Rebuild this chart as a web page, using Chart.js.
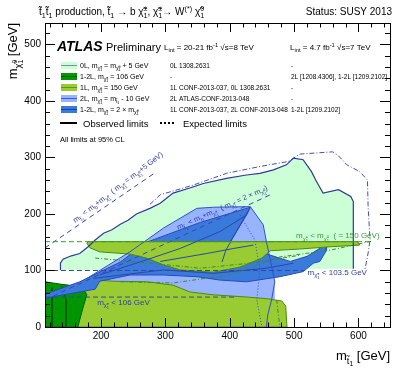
<!DOCTYPE html>
<html>
<head>
<meta charset="utf-8">
<script src="https://cdn.jsdelivr.net/npm/chart.js@4.4.0/dist/chart.umd.min.js"></script>
<style>
  html, body { margin: 0; padding: 0; background: #fff; }
</style>
</head>
<body>
<canvas id="c" width="415" height="376"></canvas>
<script>
// axis ranges / tick labels
const xRange = [113, 649];
const yRange = [0, 538];
const xTickLabels = [200, 300, 400, 500, 600];
const yTickLabels = [0, 100, 200, 300, 400, 500];

// regions, [m_stop, m_chi] in GeV
const zeroLObs = [[137,101],[137,113],[141,120],[154,126],[167,130],[180,142],[191,154],[204,166],[217,172],[230,182],[242,189],[255,200],[276,210],[292,219],[312,237],[338,246],[359,254],[395,263],[426,269],[447,272],[468,278],[488,287],[499,299],[514,296],[527,275],[535,257],[545,237],[569,243],[588,231],[592,222],[592,103]];
const zeroLExp = [[276,217],[292,234],[343,251],[395,272],[447,284],[491,293],[509,306],[560,310],[568,304],[582,287],[602,275],[614,260],[615,213],[618,154],[615,131],[610,101]];
const twoLFill = [[172,74],[178,86],[245,133],[297,175],[349,210],[375,212],[432,213],[452,181],[457,151],[463,119],[470,80],[470,48],[432,51],[374,55],[338,58],[276,71],[198,76],[172,66]];
const twoLObs = [[178,86],[245,133],[297,175],[349,210],[375,212],[432,213],[452,181],[457,151],[463,119],[470,80],[465,48],[459,21],[457,0]];
const twoLExp = [[416,198],[439,154],[447,101],[442,48],[450,0]];
const oneLLow = [[162,0],[164,30],[167,57],[171,73],[193,83],[219,81],[272,80],[312,74],[338,62],[374,57],[427,53],[458,50],[481,46],[487,37],[489,0]];
const oneLBand = [[178,148],[180,151],[599,151],[602,145],[556,142],[509,138],[463,135],[450,122],[416,106],[374,97],[323,101],[297,110],[271,122],[245,129],[198,133],[183,140]];
const oneLExpA = [[230,80],[312,78],[400,92],[478,124],[556,136],[621,152]];
const oneLExpB = [[191,122],[276,113],[354,104],[432,113],[509,127]];
const oneLExpC = [[473,48],[475,27],[478,0]];
const l106Fill = [[113,0],[113,80],[136,76],[157,73],[173,67],[178,57],[171,30],[164,0]];
const l106LineA = [[124,70],[124,0]];
const l106LineB = [[139,73],[146,48],[146,0]];
const x2Fill = [[113,58],[167,80],[230,115],[271,150],[354,185],[432,212],[427,200],[410,168],[400,150],[494,116],[520,125],[541,140],[545,149],[551,145],[550,135],[540,116],[530,113],[514,98],[478,89],[426,80],[385,83],[349,89],[297,92],[245,92],[198,81],[191,67],[113,51]];
const x2LineA = [[198,92],[271,119],[323,139],[385,169],[426,198]];
const x2LineB = [[292,116],[364,130],[406,139],[437,145]];
const x2LineC = [[188,86],[297,101],[375,95],[457,104],[499,113]];
const x2LineD = [[432,212],[410,168],[394,136],[388,115]];
const kinA = [[113,140],[284,273]];
const kinB = [[113,48],[463,234]];
const lim150 = [[113,151],[621,151]];
const lim103 = [[113,100],[517,100]];
const lim106 = [[113,53],[408,53]];

const FF = '"Liberation Sans", Arial, Helvetica, sans-serif';
function setFont(ctx, size, style) { ctx.font = (style || '') + ' ' + size + 'px ' + FF; }

// tiny rich text: parts are strings or {t, lv, sp, sb}
function rich(ctx, parts, size, x, y, draw) {
  let cx = x;
  for (const p of parts) {
    const q = typeof p === 'string' ? { t: p } : p;
    const bs = q.lv ? size * 0.72 : size;
    const bdy = q.lv ? size * 0.28 : 0;
    setFont(ctx, bs);
    if (draw) ctx.fillText(q.t, cx, y + bdy);
    cx += ctx.measureText(q.t).width;
    if (q.sp || q.sb) {
      const ss = bs * 0.72;
      setFont(ctx, ss);
      let w = 0;
      if (q.sp) { if (draw) ctx.fillText(q.sp, cx, y + bdy - bs * 0.42); w = Math.max(w, ctx.measureText(q.sp).width); }
      if (q.sb) { if (draw) ctx.fillText(q.sb, cx, y + bdy + bs * 0.3); w = Math.max(w, ctx.measureText(q.sb).width); }
      cx += w;
    }
  }
  return cx - x;
}
function drawRich(ctx, parts, size, x, y, align) {
  ctx.textAlign = 'left';
  ctx.textBaseline = 'alphabetic';
  if (align === 'right') x -= rich(ctx, parts, size, 0, 0, false);
  rich(ctx, parts, size, x, y, true);
}

const cPM = { t: 'χ̃', lv: 1, sp: '±', sb: '1' };
const c0 = { t: 'χ̃', lv: 1, sp: '0', sb: '1' };
const st = { t: 't̃', lv: 1, sb: '1' };

function mk(pts, o) {
  return Object.assign({
    data: pts.map(p => ({ x: p[0], y: p[1] })),
    pointRadius: 0, borderWidth: 1, tension: 0, fill: false,
    borderColor: 'rgba(0,0,0,0)', backgroundColor: 'rgba(0,0,0,0)'
  }, o);
}
function closed(pts) { return pts.concat([pts[0]]); }

const NAVY = '#2b3a9a', BLUE = '#3050d0', GREEN = '#3a9a3a';
const layers = [
  mk(closed(zeroLObs.concat([[137,101]])), { fill: 'shape', backgroundColor: 'rgb(204,255,214)' }),
  mk(zeroLExp, { borderColor: '#4050b8', borderDash: [5, 2, 1, 2] }),
  mk(closed(twoLFill), { fill: 'shape', backgroundColor: 'rgb(153,180,255)' }),
  mk(closed(oneLLow), { fill: 'shape', backgroundColor: 'rgb(153,204,51)', borderColor: '#4a8a10' }),
  mk(closed(l106Fill), { fill: 'shape', backgroundColor: 'rgb(0,150,0)', borderColor: '#006000' }),
  mk(l106LineA, { borderColor: '#005500' }),
  mk(l106LineB, { borderColor: '#005500' }),
  mk(closed(x2Fill), { fill: 'shape', backgroundColor: 'rgb(58,122,219)', borderColor: '#2848c0' }),
  mk(closed(oneLBand), { fill: 'shape', backgroundColor: 'rgb(153,204,51)', borderColor: '#4a8a10' }),
  mk(x2LineA, { borderColor: '#2a46b0' }),
  mk(x2LineB, { borderColor: '#2a46b0' }),
  mk(x2LineC, { borderColor: '#2a46b0' }),
  mk(x2LineD, { borderColor: '#2a46b0' }),
  mk(oneLExpA, { borderColor: '#3f8a2a', borderDash: [4, 2, 1, 2] }),
  mk(oneLExpB, { borderColor: '#3f8a2a', borderDash: [4, 2, 1, 2] }),
  mk(oneLExpC, { borderColor: '#3f8a2a', borderDash: [4, 2, 1, 2] }),
  mk(twoLObs, { borderColor: BLUE }),
  mk(twoLExp, { borderColor: BLUE, borderDash: [1, 2] }),
  mk(zeroLObs, { borderColor: NAVY, borderWidth: 1.2 }),
  mk(kinA, { borderColor: '#3848b0', borderDash: [5, 4] }),
  mk(kinB, { borderColor: '#3848b0', borderDash: [5, 4] }),
  mk(lim150, { borderColor: GREEN, borderDash: [5, 3] }),
  mk(lim103, { borderColor: '#3848a0', borderDash: [5, 3] }),
  mk(lim106, { borderColor: '#3848a0', borderDash: [5, 3] })
];
layers.forEach((d, i) => { d.order = layers.length - i; });

const deco = {
  id: 'deco',
  beforeDraw(chart) {
    const ctx = chart.ctx;
    ctx.save();
    ctx.fillStyle = '#fff';
    ctx.fillRect(0, 0, chart.width, chart.height);
    ctx.restore();
  },
  afterDatasetsDraw(chart) {
    const { ctx, scales: { x, y } } = chart;
    ctx.save();
    // diagonal kinematic labels
    ctx.fillStyle = '#3040a0';
    ctx.save();
    ctx.translate(x.getPixelForValue(160), y.getPixelForValue(184));
    ctx.rotate(-37.5 * Math.PI / 180);
    drawRich(ctx, ['m', st, ' < m', { t: 'b', lv: 1 }, '+m', cPM, '  ( m', cPM, ' = m', c0, '+5 GeV)'], 7.5, 0, 0);
    ctx.restore();
    ctx.save();
    ctx.translate(x.getPixelForValue(320), y.getPixelForValue(172));
    ctx.rotate(-24 * Math.PI / 180);
    drawRich(ctx, ['m', st, ' < m', { t: 'b', lv: 1 }, '+m', cPM, '  ( m', cPM, ' = 2 × m', c0, ')'], 7.5, 0, 0);
    ctx.restore();
    ctx.fillStyle = '#3a9a3a';
    drawRich(ctx, ['m', cPM, ' < m', c0, '  ( = 150 GeV)'], 8, x.getPixelForValue(503), y.getPixelForValue(157));
    ctx.fillStyle = '#3040a0';
    drawRich(ctx, ['m', cPM, ' < 103.5 GeV'], 8, x.getPixelForValue(521), y.getPixelForValue(92));
    drawRich(ctx, ['m', cPM, ' < 106 GeV'], 8, x.getPixelForValue(194), y.getPixelForValue(39));
    ctx.restore();
  },
  afterDraw(chart) {
    const { ctx, chartArea: a, scales: { x, y } } = chart;
    ctx.save();
    ctx.strokeStyle = '#000';
    ctx.lineWidth = 1;
    ctx.strokeRect(a.left + 0.5, a.top + 0.5, a.right - a.left, a.bottom - a.top);
    ctx.beginPath();
    for (let v = 120; v < xRange[1]; v += 20) {
      const px = Math.round(x.getPixelForValue(v)) + 0.5;
      const L = v % 100 === 0 ? 9 : 4.5;
      ctx.moveTo(px, a.bottom); ctx.lineTo(px, a.bottom - L);
      ctx.moveTo(px, a.top); ctx.lineTo(px, a.top + L);
    }
    for (let v = 0; v < yRange[1]; v += 20) {
      const py = Math.round(y.getPixelForValue(v)) + 0.5;
      const L = v % 100 === 0 ? 10 : 5;
      ctx.moveTo(a.left, py); ctx.lineTo(a.left + L, py);
      ctx.moveTo(a.right, py); ctx.lineTo(a.right - L, py);
    }
    ctx.stroke();

    ctx.fillStyle = '#000';
    // header
    drawRich(ctx, [{ t: 't̃', sb: '1' }, { t: 't̃', sb: '1' }, ' production, ', { t: 't̃', sb: '1' }, ' → b ', { t: 'χ̃', sp: '±', sb: '1' }, ', ', { t: 'χ̃', sp: '±', sb: '1' }, '→ W', { t: '', sp: '(*)' }, ' ', { t: 'χ̃', sp: '0', sb: '1' }], 10, 39, 15);
    drawRich(ctx, ['Status: SUSY 2013'], 10, 392, 15, 'right');

    // axis titles
    drawRich(ctx, ['m', st, ' [GeV]'], 13, 390, 360, 'right');
    ctx.save();
    ctx.translate(17, 23);
    ctx.rotate(-Math.PI / 2);
    drawRich(ctx, ['m', c0, ' [GeV]'], 13, 0, 0, 'right');
    ctx.restore();

    // ATLAS label
    ctx.textAlign = 'left';
    ctx.textBaseline = 'alphabetic';
    setFont(ctx, 14, 'italic bold');
    ctx.fillText('ATLAS', 57, 51);
    setFont(ctx, 11);
    ctx.fillText('Preliminary', 106, 51);
    drawRich(ctx, ['L', { t: 'int', lv: 1 }, ' = 20-21 fb', { t: '', sp: '-1' }, ' √s=8 TeV'], 8, 164, 50);
    drawRich(ctx, ['L', { t: 'int', lv: 1 }, ' = 4.7 fb', { t: '', sp: '-1' }, ' √s=7 TeV'], 8, 290, 50);

    // legend
    const rows = [
      { y: 66, fill: 'rgb(204,255,214)', line: '#6a9a9a', lab: ['0L, m', cPM, ' = m', c0, ' + 5 GeV'], c2: '0L 1308.2631', c3: '-' },
      { y: 77, fill: 'rgb(0,150,0)', line: '#006000', lab: ['1-2L, m', cPM, ' = 106 GeV'], c2: '-', c3: '2L [1208.4306], 1-2L [1209.2102]' },
      { y: 88, fill: 'rgb(153,204,51)', line: '#5a9a10', lab: ['1L, m', c0, ' = 150 GeV'], c2: '1L CONF-2013-037, 0L 1308.2631', c3: '-' },
      { y: 99, fill: 'rgb(153,180,255)', line: '#3a5ae0', lab: ['2L, m', cPM, ' = m', st, ' - 10 GeV'], c2: '2L ATLAS-CONF-2013-048', c3: '-' },
      { y: 110, fill: 'rgb(58,122,219)', line: '#2040b0', lab: ['1-2L, m', cPM, ' = 2 × m', c0], c2: '1L CONF-2013-037, 2L CONF-2013-048', c3: '1-2L [1209.2102]' }
    ];
    for (const r of rows) {
      ctx.fillStyle = r.fill;
      ctx.fillRect(61, r.y - 4, 16, 7);
      ctx.strokeStyle = r.line;
      ctx.lineWidth = 1;
      ctx.beginPath(); ctx.moveTo(61, r.y - 0.5); ctx.lineTo(77, r.y - 0.5); ctx.stroke();
      ctx.fillStyle = '#000';
      drawRich(ctx, r.lab, 7, 80, r.y + 2);
      drawRich(ctx, [r.c2], 6.5, 170, r.y + 2);
      drawRich(ctx, [r.c3], 6.5, 291, r.y + 2);
    }
    ctx.strokeStyle = '#000';
    ctx.lineWidth = 2;
    ctx.beginPath(); ctx.moveTo(60, 123); ctx.lineTo(77, 123); ctx.stroke();
    ctx.setLineDash([2, 2]);
    ctx.beginPath(); ctx.moveTo(160, 123); ctx.lineTo(176, 123); ctx.stroke();
    ctx.setLineDash([]);
    drawRich(ctx, ['Observed limits'], 9.5, 83, 126.5);
    drawRich(ctx, ['Expected limits'], 9.5, 183, 126.5);
    drawRich(ctx, ['All limits at 95% CL'], 7.5, 60, 142);
    ctx.restore();
  }
};

new Chart(document.getElementById('c'), {
  type: 'line',
  data: { datasets: layers },
  options: {
    responsive: false,
    animation: false,
    events: [],
    layout: { padding: { top: 23, right: 25, left: 0, bottom: 0 } },
    plugins: { legend: { display: false }, tooltip: { enabled: false } },
    scales: {
      x: {
        type: 'linear', min: xRange[0], max: xRange[1],
        grid: { display: false, drawTicks: false },
        border: { display: false },
        afterBuildTicks: s => { s.ticks = xTickLabels.map(v => ({ value: v })); },
        afterFit: s => { s.height = 49; },
        ticks: { padding: 3, color: '#000', font: { family: FF, size: 10 }, maxRotation: 0 }
      },
      y: {
        type: 'linear', min: yRange[0], max: yRange[1],
        grid: { display: false, drawTicks: false },
        border: { display: false },
        afterBuildTicks: s => { s.ticks = yTickLabels.map(v => ({ value: v })); },
        afterFit: s => { s.width = 45; },
        ticks: { padding: 4, color: '#000', font: { family: FF, size: 10 } }
      }
    }
  },
  plugins: [deco]
});
</script>
</body>
</html>
